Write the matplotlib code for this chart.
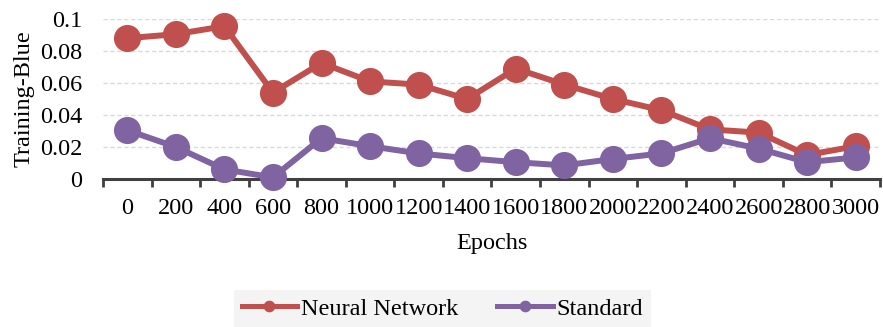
import matplotlib.pyplot as plt
import numpy as np

plt.rcParams['font.family'] = ['Liberation Serif', 'DejaVu Serif']

# Epochs on the x axis
epochs = ['0', '200', '400', '600', '800', '1000', '1200', '1400', '1600',
          '1800', '2000', '2200', '2400', '2600', '2800', '3000']
neural_network = [0.088, 0.0905, 0.0955, 0.054, 0.0725, 0.061, 0.059, 0.050,
                  0.069, 0.059, 0.050, 0.043, 0.031, 0.029, 0.015, 0.0205]
standard = [0.0305, 0.020, 0.006, 0.001, 0.0255, 0.0205, 0.016, 0.013,
            0.0105, 0.0085, 0.0125, 0.016, 0.0255, 0.019, 0.0105, 0.0135]

fig = plt.figure(figsize=(8.83, 3.27), dpi=100)
ax = fig.add_axes([0.1166, 0.4526, 0.88, 0.4893])

x = np.arange(len(epochs))
ax.plot(x, neural_network, color='#C0504D', lw=4.3, marker='o', ms=18.5,
        label='Neural Network', zorder=3)
ax.plot(x, standard, color='#8064A2', lw=4.3, marker='o', ms=18.5,
        label='Standard', zorder=4)

ax.set_xlim(-0.5, len(epochs) - 0.5)
ax.set_ylim(0, 0.1)
ax.set_yticks([0, 0.02, 0.04, 0.06, 0.08, 0.1])
ax.set_yticklabels(['0', '0.02', '0.04', '0.06', '0.08', '0.1'])

# tick marks between categories, labels at category centers
ax.set_xticks(np.arange(len(epochs) + 1) - 0.5)
ax.set_xticklabels([])
ax.set_xticks(x, minor=True)
ax.set_xticklabels(epochs, minor=True)
ax.tick_params(axis='x', which='major', length=6, width=2, color='#404040')
ax.tick_params(axis='x', which='minor', length=0, pad=14, labelsize=17.5)
ax.tick_params(axis='y', length=0, pad=15, labelsize=17.5)

for s in ['top', 'right', 'left']:
    ax.spines[s].set_visible(False)
ax.spines['bottom'].set_color('#404040')
ax.spines['bottom'].set_linewidth(2.2)
ax.spines['bottom'].set_zorder(2)

ax.grid(axis='y', color='#D9D9D9', ls=(0, (3, 2)), lw=1)
ax.set_axisbelow(True)
for ln in ax.lines:
    ln.set_clip_on(False)

ax.set_xlabel('Epochs', fontsize=17.5, labelpad=10)
ax.set_ylabel('Training-Blue', fontsize=17.5, labelpad=4)

fig.legend(loc='lower center', bbox_to_anchor=(0.501, 0.0), ncol=2,
           fontsize=17.5, frameon=True, facecolor='#F2F2F2', edgecolor='none',
           fancybox=False, handlelength=2.3, markerscale=0.4,
           borderpad=0.3, borderaxespad=0.0, columnspacing=1.6,
           handletextpad=0.15)
for h in fig.legends[0].legend_handles:
    h.set_linewidth(3.6)

fig.savefig('out.png', dpi=100)
